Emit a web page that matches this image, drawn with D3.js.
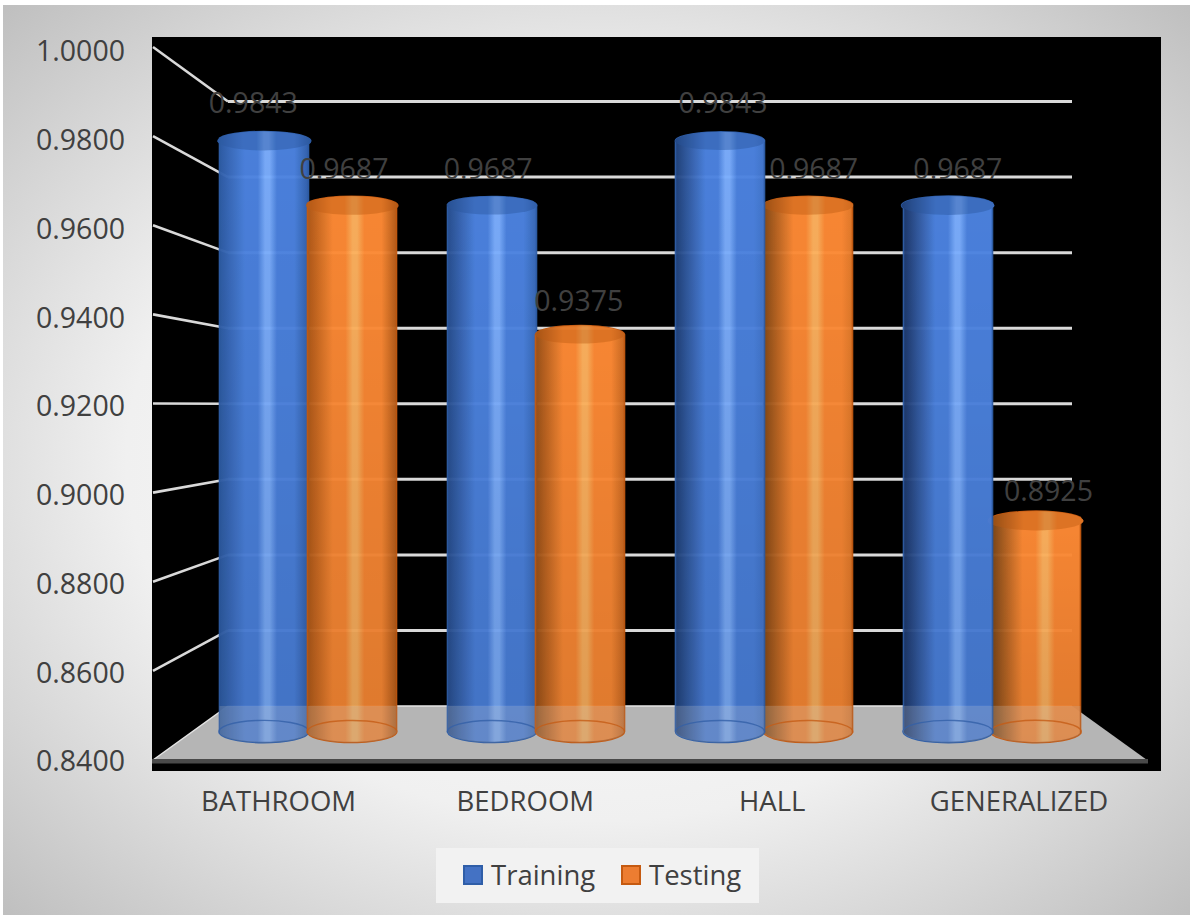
<!DOCTYPE html>
<html><head><meta charset="utf-8">
<script src="https://cdnjs.cloudflare.com/ajax/libs/d3/7.8.5/d3.min.js"></script>
<style>html,body{margin:0;padding:0;background:#fff;overflow:hidden}svg{display:block}text{font-family:"Open Sans",sans-serif}</style>
</head><body><svg id="c" width="1193" height="916"></svg>
<script>
const categories=["BATHROOM","BEDROOM","HALL","GENERALIZED"];
const seriesNames=["Training","Testing"];
const training=[0.9843,0.9687,0.9843,0.9687];
const testing=[0.9687,0.9375,0.9687,0.8925];
const tickValues=[0.84,0.86,0.88,0.90,0.92,0.94,0.96,0.98,1.0];

const svg=d3.select("#c"),defs=svg.append("defs");
const bg=defs.append("radialGradient").attr("id","bg").attr("cx","50%").attr("cy","50%").attr("r","72%");
bg.append("stop").attr("offset","0%").attr("stop-color","#ffffff");
bg.append("stop").attr("offset","55%").attr("stop-color","#f0f0f0");
bg.append("stop").attr("offset","100%").attr("stop-color","#bdbdbd");
svg.append("rect").attr("x",3).attr("y",5).attr("width",1187).attr("height",910).attr("fill","url(#bg)");
svg.append("rect").attr("x",152).attr("y",37).attr("width",1009).attr("height",734).attr("fill","#000");

const frontY=d3.scaleLinear().domain([0.84,1]).range([760,47]);
const backY=d3.scaleLinear().domain([0.84,1]).range([706,101.5]);
const labelY=d3.scaleLinear().domain([0.84,1]).range([761,51]);
const barY=d3.scaleLinear().domain([0.84,1]).range([738,76]);
const baseCy=731.5;
const dataLabelY=d3.scaleLinear().domain([0.8925,0.9843]).range([491,103]);
const wallX=[153,228],wallXr=1072;

svg.append("g").selectAll("line").data(tickValues.slice(1)).join("line")
 .attr("x1",wallX[0]).attr("x2",wallX[1]).attr("y1",d=>frontY(d)).attr("y2",d=>backY(d))
 .attr("stroke","#d9d9d9").attr("stroke-width",2.6);
svg.append("g").selectAll("line").data(tickValues.slice(1)).join("line")
 .attr("x1",wallX[1]).attr("x2",wallXr).attr("y1",d=>backY(d)).attr("y2",d=>backY(d))
 .attr("stroke","#d9d9d9").attr("stroke-width",3);

// floor
const floorPts=[[wallX[0],frontY(0.84)],[wallX[1],backY(0.84)],[wallXr,backY(0.84)],[1147,frontY(0.84)]];
svg.append("path").attr("d",d3.line()(floorPts)+"Z").attr("fill","#b5b5b5");
svg.append("path").attr("d",d3.line()(floorPts.slice(0,3))).attr("fill","none").attr("stroke","#e4e4e4").attr("stroke-width",1.5);
svg.append("rect").attr("x",152).attr("y",frontY(0.84)-1).attr("width",996).attr("height",4.5).attr("fill","#4a4a4a");

// y labels
svg.append("g").selectAll("text").data(tickValues).join("text")
 .attr("x",125).attr("y",d=>labelY(d)).attr("dy","0.36em").attr("text-anchor","end")
 .attr("font-size",28.5).attr("fill","#404040").text(d=>d.toFixed(4));

const x0=d3.scaleBand().domain(categories).range([194,1106]).padding(0);
const x1=d3.scaleBand().domain(seriesNames).range([0,176]);
const catX=d3.scalePoint().domain(categories).range([278.5,1019]);
const barW=89;
const palette={
 Training:{dark:"#1c3566",edge:"#2f5ea8",mid:"#4d84e2",hi:"#7cafff",cap:"#2a589f",stroke:"#2f5ea8"},
 Testing:{dark:"#704014",edge:"#b25a18",mid:"#ff8b35",hi:"#ffb25e",cap:"#c25c12",stroke:"#c55a11"}};

function gradient(id,p,i){
 const g=defs.append("linearGradient").attr("id",id);
 const h=52+i*3;
 const leftC=d3.interpolateRgb(p.edge,p.dark)(i/3), rightC=d3.interpolateRgb(p.edge,p.mid)(i/3);
 [[0,leftC],[Math.max(h-24,12+i*5),p.mid],[h-10,p.mid],[h-2,p.hi],[h+3,p.hi],[h+11,p.mid],[Math.min(h+30,92),p.mid],[100,rightC]]
  .forEach(s=>g.append("stop").attr("offset",s[0]+"%").attr("stop-color",s[1]));
}
const shade=defs.append("linearGradient").attr("id","fade").attr("x1",0).attr("x2",0).attr("y1",0).attr("y2",1);
shade.append("stop").attr("offset","0%").attr("stop-color","#000").attr("stop-opacity",0);
shade.append("stop").attr("offset","100%").attr("stop-color","#000").attr("stop-opacity",.1);

const rows=[];
categories.forEach((c,i)=>seriesNames.forEach((s,j)=>{
 rows.push({c,i,s,j,v:(j?testing:training)[i]});
}));
const mid=620,labelX=d3.scaleLinear().domain([mid,mid+100]).range([mid,mid+103]);
rows.forEach(r=>{
 r.cx=x0(r.c)+x0.bandwidth()/2-88+x1(r.s)+x1.bandwidth()/2;
 r.topTilt=(mid-r.cx)/mid*10;
 r.baseTilt=-(mid-r.cx)/mid*6;
 r.id=`g${r.i}${r.j}`;
 gradient(r.id,palette[r.s],r.i);
});
const order=[...rows].sort((a,b)=>a.i-b.i||((a.i<2)?a.j-b.j:b.j-a.j));
const bars=svg.append("g").selectAll("g").data(order).join("g").attr("opacity",.97);
const ex=r=>[r.cx-barW/2,r.cx+barW/2];
function body(r){
 const [L,R]=ex(r),t=barY(r.v),ry=11;
 return `M${L},${t-r.topTilt/2}L${L},${baseCy-r.baseTilt/2}A${barW/2},${ry} 0 0 0 ${R},${baseCy+r.baseTilt/2}L${R},${t+r.topTilt/2}A${barW/2},9 0 0 0 ${L},${t-r.topTilt/2}Z`;
}
function lowerPart(r){
 const [L,R]=ex(r),top=backY(0.84),ry=11;
 return `M${L},${top}L${L},${baseCy-r.baseTilt/2}A${barW/2},${ry} 0 0 0 ${R},${baseCy+r.baseTilt/2}L${R},${top}Z`;
}
function cap(r){
 const [L,R]=ex(r),t=barY(r.v),ry=9;
 return `M${L},${t-r.topTilt/2}A${barW/2},${ry} 0 0 1 ${R},${t+r.topTilt/2}A${barW/2},${ry} 0 0 1 ${L},${t-r.topTilt/2}Z`;
}
function base(r){
 const [L,R]=ex(r);
 return `M${L},${baseCy-r.baseTilt/2}A${barW/2},11 0 0 1 ${R},${baseCy+r.baseTilt/2}`;
}
bars.append("path").attr("d",body).attr("fill",r=>`url(#${r.id})`).attr("stroke",r=>palette[r.s].stroke).attr("stroke-width",1.6);
bars.append("path").attr("d",body).attr("fill","url(#fade)");
bars.append("path").attr("d",lowerPart).attr("fill","#c4c4c4").attr("opacity",.22);
bars.append("path").attr("d",cap).attr("fill",r=>`url(#${r.id})`).attr("stroke","none");
bars.append("path").attr("d",cap).attr("fill",r=>palette[r.s].cap).attr("opacity",.42);
bars.append("path").attr("d",base).attr("fill","none").attr("stroke",r=>palette[r.s].stroke).attr("stroke-width",1.4).attr("opacity",.8);

// data labels
svg.append("g").selectAll("text").data(rows).join("text")
 .attr("x",r=>labelX(r.cx)).attr("y",r=>dataLabelY(r.v)).attr("dy","0.36em").attr("text-anchor","middle")
 .attr("font-size",28.5).attr("fill","#404040").text(r=>r.v.toFixed(4));

// category labels
svg.append("g").selectAll("text").data(categories).join("text")
 .attr("x",d=>catX(d)).attr("y",801).attr("dy","0.36em").attr("text-anchor","middle")
 .attr("font-size",27.5).attr("fill","#404040").text(d=>d);

// legend
const lg=svg.append("g");
lg.append("rect").attr("x",436).attr("y",848).attr("width",323).attr("height",55).attr("fill","#f2f2f2");
const lx=d3.scaleOrdinal().domain(seriesNames).range([464,622]);
const it=lg.selectAll("g").data(seriesNames).join("g");
it.append("rect").attr("x",d=>lx(d)).attr("y",866).attr("width",18).attr("height",18)
 .attr("fill",d=>d==="Training"?"#4472c4":"#ed7d31").attr("stroke",d=>palette[d].stroke).attr("stroke-width",2);
it.append("text").attr("x",d=>lx(d)+27).attr("y",875).attr("dy","0.36em").attr("font-size",27.5).attr("fill","#404040").text(d=>d);
</script></body></html>
